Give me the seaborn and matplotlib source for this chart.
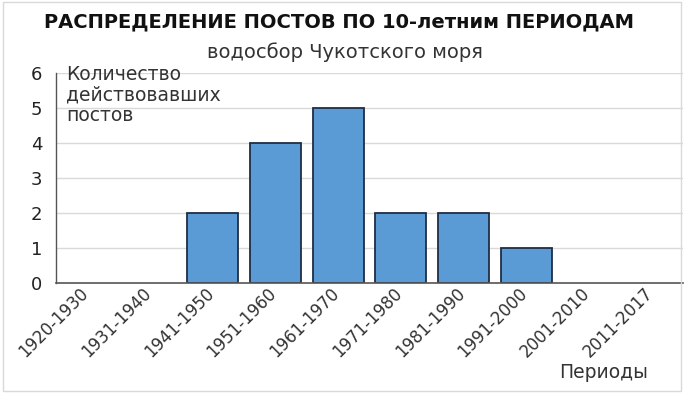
import matplotlib
matplotlib.use("Agg")
import matplotlib.pyplot as plt
import matplotlib.transforms as mtrans
import seaborn as sns
import pandas as pd
from matplotlib.patches import Rectangle

periods = ["1920-1930", "1931-1940", "1941-1950", "1951-1960", "1961-1970",
           "1971-1980", "1981-1990", "1991-2000", "2001-2010", "2011-2017"]
counts = [0, 0, 2, 4, 5, 2, 2, 1, 0, 0]
yticks = [0, 1, 2, 3, 4, 5, 6]

title = "РАСПРЕДЕЛЕНИЕ ПОСТОВ ПО 10-летним ПЕРИОДАМ"
subtitle = "водосбор Чукотского моря"
ylabel = "Количество\nдействовавших\nпостов"
xlabel = "Периоды"

sns.set_style("white")
plt.rcParams['font.family'] = ['DejaVu Sans']

df = pd.DataFrame({"period": periods, "count": counts})

fig = plt.figure(figsize=(6.84, 3.93), dpi=100)
fig.patches.append(Rectangle((0.004, 0.006), 0.992, 0.99, transform=fig.transFigure,
                             fill=False, edgecolor='#d9d9d9', linewidth=1.0))
ax = fig.add_axes([56/684, 1 - 283/393, 627/684, 210/393])

sns.barplot(data=df, x="period", y="count", ax=ax, color='#5B9BD5',
            edgecolor='#1F2D45', linewidth=1.3, width=0.81, saturation=1)
for p in ax.patches:
    if p.get_height() == 0:
        p.set_linewidth(0)

ax.set_ylim(0, 6)
ax.set_xlim(-0.5, len(periods) - 0.5)
ax.set_yticks(yticks)
ax.set_yticklabels([str(v) for v in yticks], fontsize=13, color='#222222')
ax.yaxis.grid(True, color='#d9d9d9', linewidth=1)
ax.set_axisbelow(True)
ax.tick_params(axis='y', length=0, pad=10)
ax.tick_params(axis='x', length=0, pad=4)
ax.set_xticks(range(len(periods)))
ax.set_xticklabels(periods, rotation=45, ha='right', rotation_mode='anchor',
                   fontsize=12, color='#333333')
offset = mtrans.ScaledTranslation(-8/100, 4/100, fig.dpi_scale_trans)
for lbl in ax.get_xticklabels():
    lbl.set_transform(lbl.get_transform() + offset)
ax.set_xlabel("")
ax.set_ylabel("")
for s in ['top', 'right']:
    ax.spines[s].set_visible(False)
ax.spines['left'].set_color('#555555')
ax.spines['left'].set_linewidth(1.0)
ax.spines['bottom'].set_color('#555555')
ax.spines['bottom'].set_linewidth(1.2)

fig.text(339/684, 1 - 22/393, title, ha='center', va='center', fontsize=14,
         fontweight='bold', color='#111111')
fig.text(345/684, 1 - 52/393, subtitle, ha='center', va='center', fontsize=14,
         color='#333333')
fig.text(66/684, 1 - 65/393, ylabel, ha='left', va='top', fontsize=13.5,
         color='#333333', linespacing=1.1)
fig.text(604/684, 1 - 372/393, xlabel, ha='center', va='center', fontsize=13.5,
         color='#333333')

fig.savefig("out.png", dpi=100)
